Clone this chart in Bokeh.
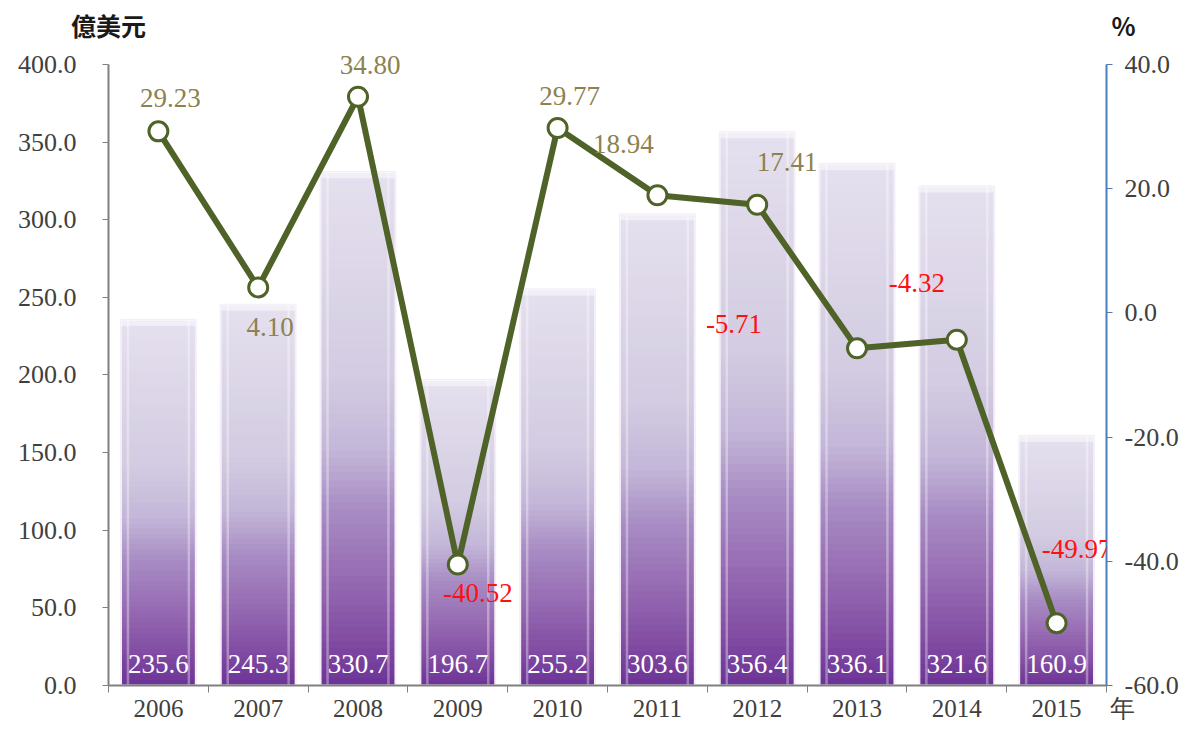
import numpy as np
from bokeh.plotting import figure
from bokeh.models import (Range1d, LinearAxis, FixedTicker, Label, NumeralTickFormatter)
from bokeh.core.properties import value
from bokeh.embed import file_html
from bokeh.resources import INLINE

# ---- data ----
years = ["2006", "2007", "2008", "2009", "2010", "2011", "2012", "2013", "2014", "2015"]
amount = [235.6, 245.3, 330.7, 196.7, 255.2, 303.6, 356.4, 336.1, 321.6, 160.9]   # 億美元
growth = [29.23, 4.10, 34.80, -40.52, 29.77, 18.94, 17.41, -5.71, -4.32, -49.97]  # %
left_ticks = [0, 50, 100, 150, 200, 250, 300, 350, 400]
right_ticks = [-60, -40, -20, 0, 20, 40]
left_unit = "億美元"
right_unit = "%"
x_unit = "年"

# ---- layout / styling ----
W, H = 1181, 724
FT, AT, FB = 44, 64, 686          # frame top, top-tick row, frame bottom (px)
FL, FR = 108, 1109                # frame left / right (px)
span = (FB - FT) / (FB - AT)
L0, L1 = left_ticks[0], left_ticks[-1]
R0, R1 = right_ticks[0], right_ticks[-1]
pct_offsets = [(12, 33), (12, -40), (12, 32), (20, -28), (12, 32),
               (-34, 51), (30, 43), (-123, 24), (-40, 57), (20, 74)]
FONT = "Liberation Serif"
CJK = "Noto Sans CJK TC"
NB = "\u00a0"

p = figure(width=W, height=H, output_backend="svg", toolbar_location=None, title=None,
           x_range=Range1d(0, len(years)),
           y_range=Range1d(L0, L0 + (L1 - L0) * span),
           min_border_left=FL, min_border_right=W - FR, min_border_top=FT,
           min_border_bottom=H - FB)
p.outline_line_color = None
p.grid.visible = False
p.background_fill_color = "white"
p.extra_y_ranges = {"pct": Range1d(R0, R0 + (R1 - R0) * span)}

# gradient bars (each bar split into thin overlapping slices, coloured by relative height)
stops_t = [0.0, 0.4, 0.54, 0.66, 0.78, 0.9, 1.0]
stops_c = [(230, 225, 239), (211, 204, 226), (196, 183, 217), (168, 140, 196),
           (152, 110, 180), (132, 80, 165), (108, 51, 150)]
N = 70
bw = 0.75
centers = [i + 0.5 for i in range(len(years))]
ql, qr, qb, qt, qc = [], [], [], [], []
for cx, v in zip(centers, amount):
    for k in range(N):
        t = 1 - (k + 0.5) / N
        rgb = [int(np.interp(t, stops_t, [c[j] for c in stops_c])) for j in range(3)]
        ql.append(cx - bw / 2); qr.append(cx + bw / 2)
        qb.append(v * k / N); qt.append(v * min(k + 1.8, N) / N)
        qc.append("#%02x%02x%02x" % tuple(rgb))
p.quad(left=ql, right=qr, bottom=qb, top=qt, fill_color=qc, line_color=None)

# bevel highlights
p.vbar(x=centers, top=amount, width=bw, fill_color=None, line_color="#f3eef7", line_width=2)
p.vbar(x=[c - bw / 2 + 0.07 for c in centers], top=amount, width=0.025,
       fill_color="white", fill_alpha=0.35, line_color=None)
p.vbar(x=[c + bw / 2 - 0.07 for c in centers], top=amount, width=0.025,
       fill_color="white", fill_alpha=0.35, line_color=None)
p.quad(left=[c - bw / 2 for c in centers], right=[c + bw / 2 for c in centers],
       top=amount, bottom=[a - 4 for a in amount], fill_color="white", fill_alpha=0.45,
       line_color=None)

# bar value labels
p.text(x=centers, y=[0] * len(amount), text=[f"{a:.1f}" for a in amount],
       text_font=value(FONT), text_font_size="27px", text_color="white",
       text_align="center", text_baseline="alphabetic", y_offset=-22)

# growth line
p.line(x=centers, y=growth, y_range_name="pct", line_color="#4f6228", line_width=6)
p.scatter(x=centers, y=growth, y_range_name="pct", size=19, fill_color="white",
          line_color="#4f6228", line_width=3)

for i, g in enumerate(growth):
    dx, dy = pct_offsets[i]
    p.add_layout(Label(x=centers[i], y=g, y_range_name="pct", text=f"{g:.2f}",
                       x_offset=dx, y_offset=dy, text_align="center", text_baseline="middle",
                       text_font=FONT, text_font_size="27px",
                       text_color="#8c8150" if g >= 0 else "#ff1010"))

# bottom axis
p.xaxis.ticker = FixedTicker(ticks=centers + [len(years) - 0.001],
                             minor_ticks=list(range(len(years) + 1)))
ov = {c: y for c, y in zip(centers, years)}
ov[len(years) - 0.001] = NB * 5 + x_unit
p.xaxis.major_label_overrides = ov
p.xaxis.major_tick_line_color = None
p.xaxis.major_tick_out = 0
p.xaxis.minor_tick_line_color = "#808080"
p.xaxis.minor_tick_out = 7
p.xaxis.minor_tick_in = 0
p.xaxis.axis_line_color = "#808080"
p.xaxis.axis_line_width = 2
p.xaxis.major_label_text_font = FONT
p.xaxis.major_label_text_font_size = "25px"
p.xaxis.major_label_text_color = "#404040"
p.xaxis.major_label_standoff = 2

# left axis
p.yaxis.ticker = FixedTicker(ticks=left_ticks)
p.yaxis.bounds = (L0, L1)
p.yaxis.formatter = NumeralTickFormatter(format="0.0")
p.yaxis.axis_line_color = "#808080"
p.yaxis.axis_line_width = 2
p.yaxis.major_tick_line_color = "#808080"
p.yaxis.major_tick_out = 6
p.yaxis.major_tick_in = 0
p.yaxis.minor_tick_line_color = None
p.yaxis.major_label_text_font = FONT
p.yaxis.major_label_text_font_size = "26px"
p.yaxis.major_label_text_color = "#404040"
p.yaxis.major_label_standoff = 26

# right axis
ra = LinearAxis(y_range_name="pct", ticker=FixedTicker(ticks=right_ticks),
                formatter=NumeralTickFormatter(format="0.0"), bounds=(R0, R1))
ra.axis_line_color = "#4a7ebb"
ra.axis_line_width = 2
ra.major_tick_line_color = "#4a7ebb"
ra.major_tick_out = 6
ra.major_tick_in = 0
ra.minor_tick_line_color = None
ra.major_label_text_font = FONT
ra.major_label_text_font_size = "26px"
ra.major_label_text_color = "#404040"
ra.major_label_standoff = 12
p.add_layout(ra, "right")

# unit captions on top (as an unlined axis above the frame)
ta = LinearAxis(ticker=FixedTicker(ticks=[0.001, len(years) - 0.001]),
                major_label_overrides={0.001: left_unit,
                                       len(years) - 0.001: NB * 6 + right_unit})
ta.axis_line_color = None
ta.major_tick_line_color = None
ta.minor_tick_line_color = None
ta.major_tick_out = 0
ta.major_label_text_font = CJK
ta.major_label_text_font_style = "bold"
ta.major_label_text_font_size = "25px"
ta.major_label_text_color = "#1a1a1a"
ta.major_label_standoff = 2
p.add_layout(ta, "above")

open("out.html", "w").write(file_html(p, INLINE))
